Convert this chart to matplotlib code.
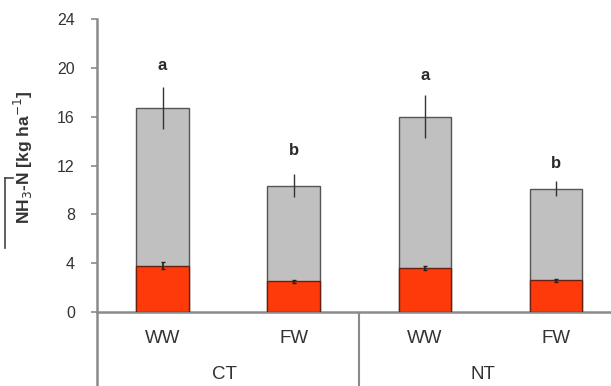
import matplotlib
matplotlib.use("Agg")
import matplotlib.pyplot as plt
from matplotlib.lines import Line2D

plt.rcParams['font.family'] = ['Liberation Sans', 'DejaVu Sans']

# Data: NH3-N losses by crop within tillage system
crops = ["WW", "FW", "WW", "FW"]
tillage = ["CT", "NT"]
total = [16.7, 10.35, 16.0, 10.1]
total_err = [1.75, 0.95, 1.75, 0.6]
part = [3.8, 2.5, 3.6, 2.6]
part_err = [0.3, 0.12, 0.2, 0.12]
letters = ["a", "b", "a", "b"]
letter_y = [20.2, 13.2, 19.4, 12.2]
yticks = [0, 4, 8, 12, 16, 20, 24]

W, H = 611, 386
fig = plt.figure(figsize=(W / 100, H / 100), dpi=100)
ax = fig.add_axes([97 / W, (H - 312) / H, 1 - 97 / W, (312 - 19) / H])

x = list(range(len(crops)))
spine_col = "#8a8a8a"
text_col = "#333333"

ax.bar(x, total, width=0.4, color="#c0c0c0", edgecolor="#555555", linewidth=1.0, zorder=2)
ax.errorbar(x, total, yerr=total_err, fmt="none", ecolor="#333333", elinewidth=1.0, capsize=0, zorder=3)
ax.bar(x, part, width=0.4, color="#ff3a0a", edgecolor="#6a2010", linewidth=1.0, zorder=4)
ax.errorbar(x, part, yerr=part_err, fmt="none", ecolor="#222222", elinewidth=1.2, capsize=1.5, zorder=5)

for xi, lab, ly in zip(x, letters, letter_y):
    ax.text(xi, ly, lab, ha="center", va="center", fontsize=12, fontweight="bold", color="#2a2a2a")

ax.set_xlim(-0.5, 3.42)
ax.set_ylim(0, 24)
ax.set_yticks(yticks)
ax.set_yticklabels([str(t) for t in yticks], fontsize=11.5, color=text_col)
ax.set_xticks([])
ax.tick_params(axis="y", direction="out", length=4, width=1.2, color=spine_col, pad=12)

for s in ["top", "right"]:
    ax.spines[s].set_visible(False)
ax.spines["left"].set_color(spine_col)
ax.spines["left"].set_linewidth(1.8)
ax.spines["bottom"].set_color(spine_col)
ax.spines["bottom"].set_linewidth(1.8)

ax.set_ylabel("NH$_3$-N [kg ha$^{-1}$]", fontsize=12.5, fontweight="bold", color=text_col)
ax.yaxis.set_label_coords((35 - 97) / 514, 0.527)

# category labels beneath the axis
for xi, c in zip(x, crops):
    ax.text(xi, -2.2, c, ha="center", va="center", fontsize=13.5, color=text_col, clip_on=False)
for xc, t in zip([0.47, 2.44], tillage):
    ax.text(xc, -5.1, t, ha="center", va="center", fontsize=13.5, color=text_col, clip_on=False)

# axis extension and group divider down to the figure edge
ax.plot([-0.5, -0.5], [0, -6.5], color=spine_col, lw=1.8, clip_on=False, solid_capstyle="butt")
ax.plot([1.5, 1.5], [0, -6.5], color=spine_col, lw=1.5, clip_on=False, solid_capstyle="butt")

# bracket at the left margin
fig.add_artist(Line2D([5 / W, 5 / W], [(H - 248) / H, (H - 178) / H], color="#444444", lw=1.2))
fig.add_artist(Line2D([5 / W, 13 / W], [(H - 178) / H, (H - 178) / H], color="#444444", lw=1.2))

fig.savefig("out.png", dpi=100)
